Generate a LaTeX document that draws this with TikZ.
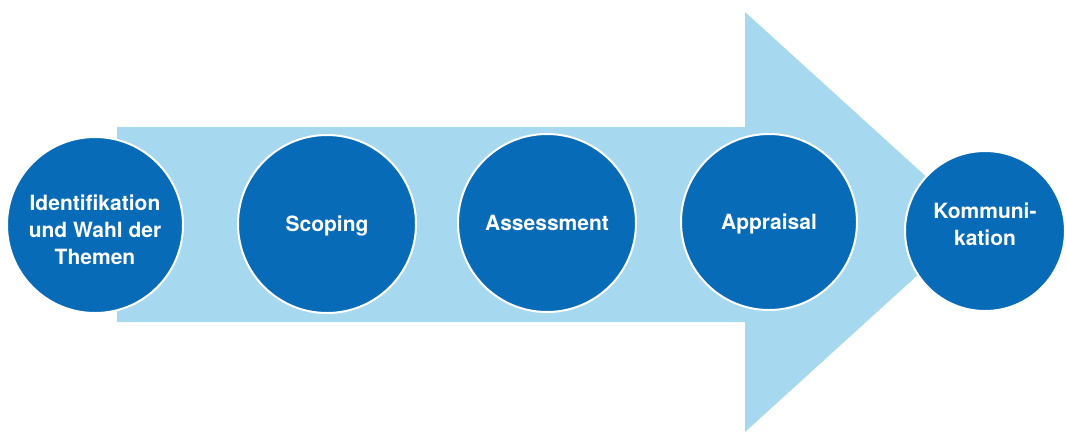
\documentclass[tikz,border=0pt]{standalone}
\usepackage{fontspec}
\setmainfont{TeX Gyre Heros}
\definecolor{lightblue}{HTML}{A6D9F0}
\definecolor{darkblue}{HTML}{086BB7}
\begin{document}
\begin{tikzpicture}[x=1pt,y=-1pt,
  stage/.style={circle, fill=darkblue, draw=white, line width=2pt, inner sep=0pt,
    text=white, align=center, font=\fontsize{21}{27}\selectfont\bfseries},
  stagetext/.style={inner sep=0pt, text=white, align=center, font=\fontsize{21}{27}\selectfont\bfseries},
  oneline/.style={text height=15pt, text depth=0pt}]
\useasboundingbox (0,0) rectangle (1067,432);
\fill[lightblue] (117,127) -- (745,127) -- (745,12) -- (976,222) -- (745,432) -- (745,322) -- (117,322) -- cycle;
\node[stage, minimum size=176pt] (s1) at (95,225) {};
\node[stagetext] (t1) at (95,230) {Identifikation\\und Wahl der\\Themen};
\node[stage, oneline, minimum size=178pt] (s2) at (327,224) {Scoping};
\node[stage, oneline, minimum size=178pt] (s3) at (547,223) {Assessment};
\node[stage, oneline, minimum size=176pt] (s4) at (769,222) {Appraisal};
\node[stage, minimum size=160pt] (s5) at (985,231) {};
\node[stagetext] (t5) at (985,224) {Kommuni-\\kation};
\end{tikzpicture}
\end{document}
